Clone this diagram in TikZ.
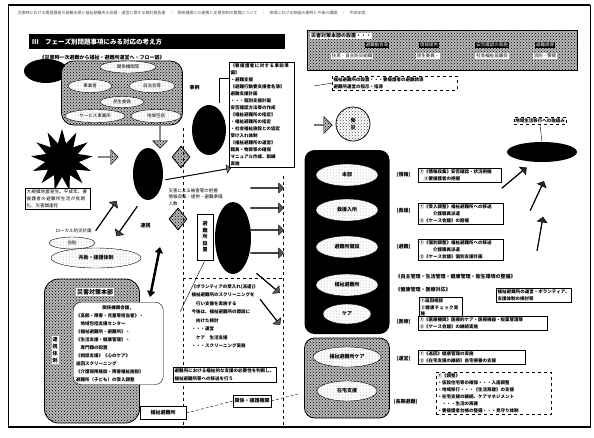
\documentclass[tikz,border=0pt]{standalone}
\usepackage{fontspec}
\newfontfamily\jp{Noto Sans CJK JP}
\XeTeXlinebreaklocale "ja"
\XeTeXlinebreakskip=0pt plus 1pt
\usetikzlibrary{shapes.geometric,shapes.arrows,shapes.symbols,shapes.misc,patterns,arrows.meta}
\tikzset{
  tx/.style={font=\jp\fontsize{4.5}{6.5}\selectfont},
  txb/.style={font=\jp\bfseries\fontsize{5}{7}\selectfont},
  blk/.style={ellipse, fill=black, inner sep=0pt},
  wel/.style={ellipse, draw, fill=white, inner sep=0pt, tx, postaction={pattern=dots, pattern color=black!45}},
  stip/.style={draw, line width=0.8pt, fill=black!28, postaction={pattern=crosshatch dots, pattern color=black}},
  tbox/.style={draw, tx, align=left, inner sep=1.5pt, fill=white},
  darr/.style={single arrow, draw, fill=black!75, minimum width=10pt, single arrow head extend=2.5pt, inner sep=0pt},
  sarr/.style={single arrow, draw, fill=black!28, postaction={pattern=crosshatch dots}, single arrow head extend=3pt, inner sep=0pt},
  dlab/.style={fill=black, text=white, tx, inner sep=1.2pt},
  sect/.style={txb, anchor=west}
}
\begin{document}
\begin{tikzpicture}[x=1pt,y=-1pt]
\useasboundingbox (0,0) rectangle (594,437);
\fill[white] (0,0) rectangle (594,437);
% frame
\draw[line width=1pt] (8,5) rectangle (590,427);
\draw[line width=2pt] (8,5) -- (590,5);
\draw[line width=2pt] (8,427) -- (590,427);
\node[tx, text=black!70, anchor=west, font=\jp\fontsize{4}{5}\selectfont] (hdr) at (14,13)
 {災害時における要援護者の避難支援と福祉避難所の設置・運営に関する検討報告書　・　関係機関との連携と支援体制の整備について　・　地域における取組み事例と今後の課題　・　平成年度};
% title
\node[fill=black, text=white, anchor=north west, minimum width=256pt, minimum height=15pt, text width=250pt, align=left, inner sep=3pt, font=\jp\bfseries\fontsize{6.5}{8}\selectfont] (title) at (29,34) {Ⅲ\quad フェーズ別問題事項にみる対応の考え方};
\node[txb, anchor=west] (sub) at (36,58) {《災害時一次避難から福祉・避難所運営へ・フロー図》};

% top-left cluster
\node[blk, minimum width=44pt, minimum height=24pt] (e0) at (46,71) {};
\node[stip, rounded corners=12pt, minimum width=121pt, minimum height=64pt] (grp) at (122,93) {};
\node[wel, minimum width=56pt, minimum height=12pt] (g1) at (128,67) {関係機関等};
\node[wel, minimum width=44pt, minimum height=13pt] (g2) at (90,86) {事業者};
\node[wel, minimum width=46pt, minimum height=13pt] (g3) at (152,86) {自治会等};
\node[wel, minimum width=44pt, minimum height=11pt] (g4) at (122,102) {民生委員};
\node[wel, minimum width=60pt, minimum height=13pt] (g5) at (95,116) {サービス事業所};
\node[wel, minimum width=50pt, minimum height=13pt] (g6) at (156,116) {地域包括};
\node[txb, anchor=west] (rei) at (186,88) {事例};
\node[sarr, rotate=-90, minimum height=22pt, minimum width=15pt] (a0) at (160,137) {};

\node[blk, minimum width=30pt, minimum height=52pt] (ec) at (148,174) {};
\node[blk, minimum width=34pt, minimum height=50pt] (er1) at (209,130) {};
\node[starburst, fill=black, starburst points=13, starburst point height=14pt, random starburst=0, minimum size=62pt] (burst) at (62,160) {};
\node[sarr, minimum height=20pt, minimum width=15pt] (a1) at (108,157) {};
\node[tbox, text width=62pt, anchor=north west, font=\jp\fontsize{4.5}{7}\selectfont] (tb1) at (25,188) {大規模地震発生。平成年、要援護者の避難所生活が長期化、災害関連死};

\node[darr, rotate=55, minimum height=36pt] (a2) at (106,216) {};
\node[darr, rotate=235, minimum height=36pt] (a3) at (127,221) {};
\node[txb, anchor=west] (lbl1) at (137,226) {連携};
\node[tx, anchor=west] (lbl2) at (52,231) {ローカル防災計画};
\node[wel, minimum width=46pt, minimum height=12pt] (ej) at (72,243) {自助};
\node[wel, minimum width=90pt, minimum height=20pt, font=\jp\bfseries\fontsize{5}{6}\selectfont] (ek) at (96,258) {共助・援護体制};
\coordinate (da1) at (160,247);
\coordinate (da2) at (150,297);
\draw[line width=2.5pt, {Triangle[length=6pt,width=8pt]}-{Triangle[length=6pt,width=8pt]}] (da1) -- (da2);

\node[stip, diamond, minimum width=18pt, minimum height=22pt, inner sep=0pt] (dm1) at (181,157) {};
\node[stip, diamond, minimum width=18pt, minimum height=22pt, inner sep=0pt] (dm2) at (178,219) {};
\node[single arrow, draw, fill=black!55, rotate=10, minimum height=66pt, minimum width=8pt, single arrow head extend=3pt, inner sep=0pt] (a4) at (198,174) {};
\node[tx, anchor=north west, align=left] (tb2) at (165,185) {災害による被害等の把握\\情報収集・提供・避難準備\\人数};

% right list box
\node[tbox, text width=62pt, anchor=north west, font=\jp\bfseries\fontsize{4.5}{7}\selectfont] (lb) at (229,62) {《要援護者に対する事前準備》\\・避難支援\\《避難行動要支援者名簿》\\避難支援計画\\・・・個別支援計画\\安否確認方法等の作成\\《福祉避難所の指定》\\・福祉避難所の指定\\・社会福祉施設との協定\\受け入れ体制\\《福祉避難所の運営》\\職員・物資等の確保\\マニュアル作成、訓練\\実施};
\draw ([yshift=-16pt]lb.north west) -- ++(-10,0) -- ++(0,25);

% dashed separators
\draw[dashed, line width=0.8pt] (183,128) -- (183,428);
\draw[dashed, line width=0.8pt] (283,176) -- (283,428);
\draw[dashed, line width=0.8pt] (183,278) -- (283,278);

\node[draw, fill=white, minimum width=16pt, minimum height=46pt, tx, align=center, text width=6pt, inner sep=1pt, font=\jp\bfseries\fontsize{5}{6.5}\selectfont] (vr) at (205,237) {避\\難\\所\\設\\置};
\coordinate (vrl) at (180,312);
\draw (vr.south) -- (vrl);
\node[blk, minimum width=36pt, minimum height=72pt] (eb) at (233,238) {};
\node[darr, minimum height=33pt, fill=black!65] (r1) at (267,188) {};
\node[darr, minimum height=33pt, fill=black!65] (r2) at (267,208) {};
\node[darr, minimum height=33pt, fill=black!65] (r3) at (267,230) {};
\node[darr, minimum height=33pt, fill=black!65] (r4) at (267,253) {};
\node[darr, rotate=-40, minimum height=30pt, fill=black!65] (r5) at (268,283) {};
\node[darr, rotate=-52, minimum height=32pt, fill=black!65] (r6) at (270,312) {};

\node[tx, anchor=north west, align=left, font=\jp\bfseries\fontsize{4.5}{8.5}\selectfont] (tb3) at (188,281) {《ボランティアの受入れ(派遣)》\\福祉避難所のスクリーニングを\\　行い支援を実施する\\今後は、福祉避難所の開設に\\　向けた検討\\・・・運営\\　ケア　生活支援\\・・・スクリーニング実施};
\node[tbox, text width=100pt, anchor=north west, font=\jp\bfseries\fontsize{4.5}{7.5}\selectfont] (tb4) at (173,367) {避難所における福祉的な支援の必要性を判断し、福祉避難所等への移送を行う};
\node[tbox, font=\jp\bfseries\fontsize{5}{6}\selectfont, minimum height=12pt] (tb5) at (252,401) {関係・援護機関};
\node[tbox, font=\jp\bfseries\fontsize{5}{6}\selectfont, minimum height=13pt, minimum width=46pt] (tb6) at (163,413) {福祉避難所};
\coordinate (tb5r) at (298,394);
\draw[densely dashed] (tb6.east) -- (tb5.west);
\draw[densely dashed] (tb5.east) -- (tb5r);

% bottom-left headquarters
\node[stip, rounded corners=14pt, minimum width=95pt, minimum height=144pt] (sbox) at (92,351) {};
\node[txb, fill=white, inner sep=1pt, font=\jp\bfseries\fontsize{6}{7}\selectfont] (sbt) at (95,292) {災害対策本部};
\node[txb, fill=white, inner sep=1pt, align=center] (sbv) at (55,350) {連\\携\\体\\制};
\node[tbox, rounded corners=8pt, text width=84pt, anchor=north west, inner sep=3pt, font=\jp\bfseries\fontsize{4.5}{8}\selectfont] (ib) at (73,302) {\hfill 関係機関会議，\hfill\null\\《高齢・障害・児童等担当者》・\\　地域包括支援センター\\《福祉避難所・避難所》・\\《生活支援・健康管理》・\\　専門職の配置\\《相談支援》《心のケア》\\巡回スクリーニング\\《介護保険施設・障害福祉施設》\\避難所（子ども）の受入調整};

% right top band
\node[stip, minimum width=270pt, minimum height=40pt] (band) at (442,50) {};
\node[txb, fill=white, inner sep=1pt, anchor=west] (bt) at (310,36) {災害対策本部の設置・・・};
\node[dlab] (lb1) at (377,45) {避難勧告等};
\node[dlab] (lb2) at (429,45) {情報提供};
\node[dlab] (lb3) at (492,45) {安否確認の実施};
\node[dlab] (lb4) at (545,45) {避難誘導};
\node[tx, fill=white, inner sep=1pt] (rw1) at (352,56) {住民・自主防災組織};
\node[tx, fill=white, inner sep=1pt] (rw2) at (428,56) {民生委員・};
\node[tx, fill=white, inner sep=1pt] (rw3) at (492,56) {社会福祉協議会};
\node[tx, fill=white, inner sep=1pt] (rw4) at (545,56) {消防・警察};
\node[tbox, dashed, text width=122pt, anchor=north west, font=\jp\bfseries\fontsize{4.5}{6.5}\selectfont] (db1) at (332,76) {福祉避難所の設置・・・要援護者の避難誘導\\避難所運営の指示・指導};
\coordinate (cb1) at (314,86);
\draw (cb1) -- (db1.west);

\node[sarr, minimum height=18pt, minimum width=17pt] (ar1) at (323,125) {};
\node[circle, draw, line width=0.8pt, fill=white, postaction={pattern=crosshatch dots, pattern color=black!70}, minimum size=34pt, inner sep=0pt, align=center, txb] (ci) at (353,124) {発\\災};

\node[rectangle, rounded corners=10pt, fill=black, minimum width=85pt, minimum height=184pt] (bk) at (347,242) {};
\node[wel, minimum width=62pt, minimum height=22pt, txb] (k1) at (347,175) {本部};
\node[wel, minimum width=62pt, minimum height=22pt, txb] (k2) at (347,210) {救援入所};
\node[wel, minimum width=62pt, minimum height=22pt, txb] (k3) at (347,247) {避難所開設};
\node[wel, minimum width=62pt, minimum height=22pt, txb] (k4) at (347,285) {福祉避難所};
\node[wel, minimum width=48pt, minimum height=20pt, txb] (k5) at (347,314) {ケア};
\node[stip, rounded corners=10pt, minimum width=85pt, minimum height=80pt] (sb2) at (347,378) {};
\node[wel, minimum width=68pt, minimum height=20pt, txb] (m1) at (347,357) {福祉避難所ケア};
\node[wel, minimum width=60pt, minimum height=20pt, txb] (m2) at (347,391) {在宅支援};

% section labels
\node[sect] (c1) at (393,175) {(情報)};
\node[sect] (c2) at (393,211) {(救援)};
\node[sect] (c3) at (393,247) {(避難)};
\node[sect] (c4) at (393,322) {(医療)};
\node[sect] (c5) at (393,359) {(運営)};
\node[sect] (c6) at (390,402) {(長期避難)};

\node[tbox, text width=80pt, anchor=north west, font=\jp\bfseries\fontsize{4.5}{7}\selectfont] (t1) at (418,168) {①《情報収集》安否確認・状況把握\\　②要援護者の把握};
\node[tbox, text width=82pt, anchor=north west, font=\jp\bfseries\fontsize{4.5}{7}\selectfont] (t2) at (418,203) {①《受入調整》福祉避難所への移送\\　　　介護職員派遣\\②《ケース会議》の開催};
\node[tbox, text width=82pt, anchor=north west, font=\jp\bfseries\fontsize{4.5}{7}\selectfont] (t3) at (418,239) {①《個別調整》福祉避難所への移送\\　　　介護職員派遣\\②《ケース会議》個別支援計画};
\node[txb, anchor=west] (t4) at (392,277) {《自主管理・生活管理・健康管理・衛生環境の整備》};
\node[txb, anchor=west] (t5) at (392,290) {《健康管理・医療対応》};
\node[tbox, text width=40pt, anchor=north west, font=\jp\bfseries\fontsize{4.5}{6.5}\selectfont] (t6) at (419,297) {①巡回相談\\②健康チェック実施};
\node[tbox, text width=72pt, anchor=north west, font=\jp\bfseries\fontsize{4.5}{6.5}\selectfont] (t7) at (496,288) {福祉避難所の運営・ボランティア、支援体制の検討等};
\node[tbox, text width=126pt, anchor=north west, font=\jp\bfseries\fontsize{4.5}{7}\selectfont] (t8) at (418,316) {①《医療機関》医療的ケア・医療機器・投薬管理等\\②《ケース会議》の継続実施};
\node[tbox, text width=104pt, anchor=north west, font=\jp\bfseries\fontsize{4.5}{7}\selectfont] (t9) at (418,350) {①《巡回》健康管理の実施\\②《在宅支援の継続》自宅療養の支援};
\node[tbox, dashed, text width=112pt, anchor=north west, font=\jp\bfseries\fontsize{4.5}{7}\selectfont] (t10) at (436,372) {①《調整》\\・仮設住宅等の確保・・・入居調整\\・地域移行・・・《生活再建》の支援\\・在宅支援の継続、ケアマネジメント\\　・・・生活の再建\\・要援護者台帳の整備・・・見守り体制};

% top right
\node[tbox, dashed, font=\jp\bfseries\fontsize{4.5}{6}\selectfont] (db2) at (540,121) {地域生活移行への取組み};
\node[blk, minimum width=70pt, minimum height=20pt] (eo) at (542,152) {};
\draw (db2.south) -- (eo.north);
\node[darr, rotate=40, minimum height=32pt, fill=black!85] (ua1) at (514,178) {};
\node[darr, rotate=65, minimum height=32pt, fill=black!85] (ua2) at (537,196) {};
\node[darr, rotate=80, minimum height=34pt, fill=black!85] (ua3) at (540,234) {};
\end{tikzpicture}
\end{document}
